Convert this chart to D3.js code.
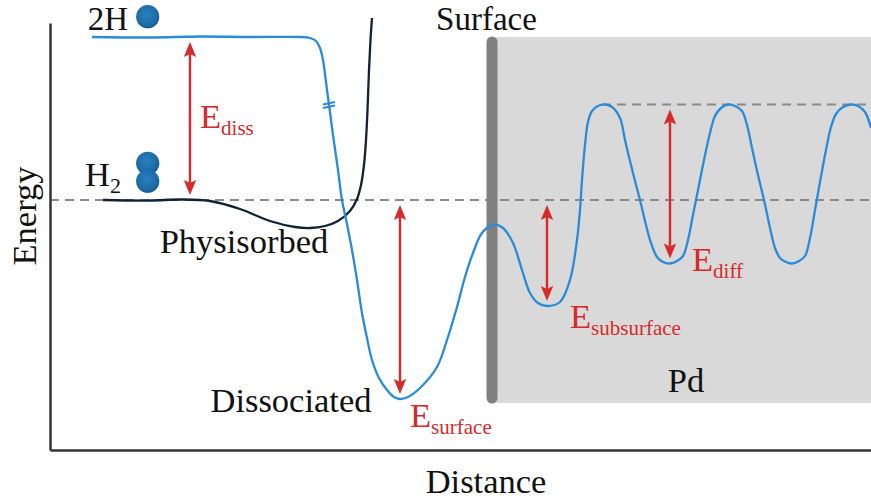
<!DOCTYPE html>
<html>
<head>
<meta charset="utf-8">
<script src="https://cdn.jsdelivr.net/npm/d3@7"></script>
<style>
  html, body { margin: 0; padding: 0; background: #fff; }
  svg { display: block; font-family: "Liberation Serif", "Times New Roman", serif; }
</style>
</head>
<body>
<svg id="chart" width="871" height="500"></svg>
<script>
// Potential energy of hydrogen approaching and entering palladium (arbitrary units).
// Energy zero = molecular H2 far from the surface.

// Atomic (chemisorption) pathway: 2H -> surface site -> subsurface -> bulk sites
const chemDistance = [4.2, 10.0, 15.0, 20.0, 25.0, 26.0, 26.6, 27.0, 27.3, 27.6, 27.9, 28.3, 28.8,
  29.2, 29.7, 30.2, 30.7, 31.2, 31.7, 32.2, 32.9, 33.7, 34.4, 35.0, 35.8, 37.0, 38.7, 39.7, 40.7,
  41.5, 42.3, 43.2, 44.3, 45.3, 46.3, 47.2, 48.0, 48.8, 49.7, 51.0, 52.0, 52.7, 53.0, 53.2, 53.5,
  53.8, 54.2, 54.8, 55.5, 56.2, 57.0, 57.5, 57.9, 58.4, 59.0, 59.6, 60.1, 60.7, 61.3, 62.0, 62.7,
  63.3, 63.8, 64.3, 64.8, 65.4, 66.0, 66.5, 67.1, 67.8, 68.5, 69.2, 69.7, 70.2, 70.8, 71.4, 72.0,
  72.5, 73.0, 73.6, 74.2, 74.9, 75.5, 76.0, 76.5, 77.0, 77.6, 78.1, 78.6, 79.3, 80.1, 80.8, 81.5, 82.1];
const chemEnergy = [16.3, 16.25, 16.35, 16.3, 16.3, 16.2, 15.9, 15.2, 14.0, 11.8, 9.5, 6.5, 3.0,
  0, -2.4, -5.0, -8.0, -11.3, -13.8, -16.0, -17.8, -19.0, -19.7, -19.9, -19.7, -18.8, -16.7, -14.0, -10.7,
  -7.7, -5.3, -3.3, -2.45, -2.8, -4.3, -7.0, -9.3, -10.3, -10.6, -10.2, -8.0, -4.0, -1.0, 2.0, 5.5,
  7.8, 8.9, 9.4, 9.55, 9.3, 8.2, 6.0, 4.3, 2.3, 0, -2.5, -4.3, -5.7, -6.2, -6.35, -6.1,
  -5.6, -4.0, -1.5, 1.0, 4.0, 6.7, 8.4, 9.2, 9.55, 9.4, 8.9, 7.5, 5.2, 2.5, 0, -2.8,
  -4.8, -5.8, -6.2, -6.35, -6.1, -5.6, -3.8, -1.0, 1.8, 5.0, 7.3, 8.6, 9.3, 9.55, 9.4, 8.8, 7.2];

// Molecular (physisorption) pathway: H2 -> physisorbed well -> repulsive wall
const physDistance = [5.3, 10.0, 13.0, 16.0, 19.0, 22.0, 24.5, 26.0, 27.5, 28.8, 30.0, 30.7,
  31.1, 31.4, 31.6, 31.75, 31.9, 32.05, 32.2];
const physEnergy = [0, -0.05, 0.05, -0.1, -0.9, -2.1, -2.7, -2.8, -2.6, -2.1, -1.1, 0.1,
  1.5, 3.5, 6.0, 9.0, 13.0, 16.0, 18.2];

// Reference levels: H2 gas, bulk diffusion barrier top
const gasLevel = 0;
const diffusionLevel = 9.55;
const diffusionStart = 55.2;

// Pd slab and its surface plane
const surfaceX = 44.2;
const slabTop = 16.3;
const slabBottom = -20.3;

// Break in the 2H curve
const breakX = 27.9;
const breakE = 9.5;

// Energy differences shown as double arrows
const barrierNames = ["diss", "surface", "subsurface", "diff"];
const barrierX = [14.0, 35.0, 49.7, 62.0];
const barrierHigh = [16.3, 0, 0, 9.55];
const barrierLow = [0, -19.9, -10.6, -6.35];

// Text
const axisTitles = { x: "Distance", y: "Energy" };
const stateNames = ["Physisorbed", "Dissociated", "Surface", "Pd"];

const svg = d3.select("#chart");
const x = d3.scaleLinear().domain([0, 82.1]).range([50, 871]);
const y = d3.scaleLinear().domain([-25, 17.7]).range([450, 23]);

const RED = "#d62a2b";
const BLUE = "#2a8bd8";
const DARK = "#0f2335";
const TXT = "#111";

// ball gradient
const defs = svg.append("defs");
const grad = defs.append("radialGradient").attr("id", "ball")
  .attr("cx", "45%").attr("cy", "40%").attr("r", "60%");
grad.append("stop").attr("offset", "0%").attr("stop-color", "#2a80c0");
grad.append("stop").attr("offset", "80%").attr("stop-color", "#1b6aa5");
grad.append("stop").attr("offset", "100%").attr("stop-color", "#14588c");

// Pd slab
svg.append("rect")
  .attr("x", x(surfaceX)).attr("y", y(slabTop))
  .attr("width", x(82.1) - x(surfaceX))
  .attr("height", y(slabBottom) - y(slabTop))
  .attr("fill", "#d9d9d9");

// dashed reference levels
svg.append("line")
  .attr("x1", x(0)).attr("x2", x(82.1))
  .attr("y1", y(gasLevel)).attr("y2", y(gasLevel))
  .attr("stroke", "#8a8a8a").attr("stroke-width", 2).attr("stroke-dasharray", "9,6");
svg.append("line")
  .attr("x1", x(diffusionStart)).attr("x2", x(82.1))
  .attr("y1", y(diffusionLevel)).attr("y2", y(diffusionLevel))
  .attr("stroke", "#8a8a8a").attr("stroke-width", 2).attr("stroke-dasharray", "9,6");

// surface plane
svg.append("line")
  .attr("x1", x(surfaceX)).attr("x2", x(surfaceX))
  .attr("y1", y(slabTop) + 5).attr("y2", y(slabBottom) - 5)
  .attr("stroke", "#808080").attr("stroke-width", 11).attr("stroke-linecap", "round");

// axes (no ticks)
const xAxis = d3.axisBottom(x).tickValues([]).tickSizeOuter(0);
const yAxis = d3.axisLeft(y).tickValues([]).tickSizeOuter(0);
svg.append("g").attr("transform", `translate(0,${y(-25)})`).call(xAxis)
  .select(".domain").attr("stroke", "#333").attr("stroke-width", 2.5);
svg.append("g").attr("transform", `translate(${x(0)},0)`).call(yAxis)
  .select(".domain").attr("stroke", "#333").attr("stroke-width", 2.5);

// curves
const line = d3.line().x(d => x(d[0])).y(d => y(d[1])).curve(d3.curveCatmullRom.alpha(0.5));
svg.append("path")
  .datum(d3.zip(physDistance, physEnergy))
  .attr("d", line).attr("fill", "none")
  .attr("stroke", DARK).attr("stroke-width", 2.3);
svg.append("path")
  .datum(d3.zip(chemDistance, chemEnergy))
  .attr("d", line).attr("fill", "none")
  .attr("stroke", BLUE).attr("stroke-width", 2.3);

// break mark
[-1.7, 1.7].forEach(off => {
  svg.append("line")
    .attr("x1", x(breakX) - 6).attr("x2", x(breakX) + 6)
    .attr("y1", y(breakE) + off + 1.3).attr("y2", y(breakE) + off - 1.3)
    .attr("stroke", BLUE).attr("stroke-width", 2);
});

// double arrows
const gap = 5, headL = 15, headW = 6.2, notch = 3;
barrierNames.forEach((name, i) => {
  const px = x(barrierX[i]);
  const yTop = y(barrierHigh[i]) + gap;
  const yBot = y(barrierLow[i]) - gap;
  const g = svg.append("g");
  g.append("line")
    .attr("x1", px).attr("x2", px)
    .attr("y1", yTop + headL - notch).attr("y2", yBot - headL + notch)
    .attr("stroke", RED).attr("stroke-width", 2.4);
  g.append("path")
    .attr("d", `M${px},${yTop} L${px + headW},${yTop + headL} L${px},${yTop + headL - notch} L${px - headW},${yTop + headL} Z`)
    .attr("fill", RED);
  g.append("path")
    .attr("d", `M${px},${yBot} L${px + headW},${yBot - headL} L${px},${yBot - headL + notch} L${px - headW},${yBot - headL} Z`)
    .attr("fill", RED);
});

// arrow labels: E with subscript, placed next to each arrow
const labelOffset = {
  diss: [10, -(y(0) - y(16.3)) / 2 + 9.5],
  surface: [10, 28],
  subsurface: [23, 22],
  diff: [22, 7]
};
barrierNames.forEach((name, i) => {
  const [dx, dy] = labelOffset[name];
  const t = svg.append("text")
    .attr("x", x(barrierX[i]) + dx).attr("y", y(barrierLow[i]) + dy)
    .attr("fill", RED).attr("font-size", 34.5);
  t.append("tspan").text("E");
  t.append("tspan").attr("dy", 7).attr("font-size", 21).text(name);
});

// state labels
svg.append("text").attr("x", 244).attr("y", 253).attr("text-anchor", "middle")
  .attr("font-size", 34.5).attr("fill", TXT).text(stateNames[0]);
svg.append("text").attr("x", 291).attr("y", 412).attr("text-anchor", "middle")
  .attr("font-size", 34.5).attr("fill", TXT).text(stateNames[1]);
svg.append("text").attr("x", 486.5).attr("y", 30).attr("text-anchor", "middle")
  .attr("font-size", 33).attr("fill", TXT).text(stateNames[2]);
svg.append("text").attr("x", 686).attr("y", 392).attr("text-anchor", "middle")
  .attr("font-size", 34.5).attr("fill", TXT).text(stateNames[3]);

// species labels with atom spheres
svg.append("text").attr("x", 128).attr("y", 30).attr("text-anchor", "end")
  .attr("font-size", 33).attr("fill", TXT).text("2H");
const h2 = svg.append("text").attr("x", 85).attr("y", 186)
  .attr("font-size", 34.5).attr("fill", TXT);
h2.append("tspan").text("H");
h2.append("tspan").attr("dy", 7).attr("font-size", 22).text("2");

[[147.7, 16.7], [147.7, 163.3], [147.7, 181.2]].forEach(([cx, cy]) => {
  svg.append("circle").attr("cx", cx).attr("cy", cy).attr("r", 11.6)
    .attr("fill", "url(#ball)");
});

// axis titles
svg.append("text").attr("x", 486).attr("y", 493).attr("text-anchor", "middle")
  .attr("font-size", 34.5).attr("fill", TXT).text(axisTitles.x);
svg.append("text").attr("transform", "translate(36,216) rotate(-90)")
  .attr("text-anchor", "middle")
  .attr("font-size", 34.5).attr("fill", TXT).text(axisTitles.y);
</script>
</body>
</html>
